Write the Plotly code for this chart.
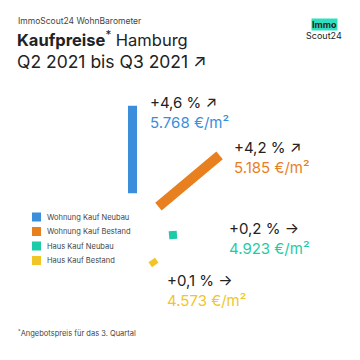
import math
import plotly.graph_objects as go

# ---------------- data ----------------
categories = ["Wohnung Kauf Neubau", "Wohnung Kauf Bestand", "Haus Kauf Neubau", "Haus Kauf Bestand"]
change_pct = [4.6, 4.2, 0.2, 0.1]
price_eur_m2 = [5768, 5185, 4923, 4573]
trend_arrow = ["↗", "↗", "→", "→"]

# ---------------- styles / layout ----------------
colors = ["#3A8EDB", "#E8801F", "#1ECBA9", "#F2C527"]
FONT = "Inter"
DARK = "#222222"
GREY = "#444444"

seg_center = [(132.5, 149.5), (189, 181), (173, 235), (153.5, 262.5)]
seg_angle = [90, 40, 5, 35]
seg_width = [9, 10, 8, 6]
LEN_PER_PCT = 19
MIN_LEN = 8

label_pos = [(148, 112), (232, 157), (227, 238), (165, 290)]
legend_x, legend_y0, legend_dy = 36.5, 217, 14.5


def de_num(v):
    return f"{v:,}".replace(",", ".")


def de_pct(v):
    return ("+" if v >= 0 else "") + f"{v:.1f}".replace(".", ",") + " %"


fig = go.Figure()

# segments
for i, cat in enumerate(categories):
    L = max(MIN_LEN, change_pct[i] * LEN_PER_PCT)
    cx, cy = seg_center[i]
    a = math.radians(seg_angle[i])
    dx, dy = math.cos(a) * L / 2, -math.sin(a) * L / 2
    fig.add_trace(go.Scatter(
        x=[cx - dx, cx + dx], y=[cy - dy, cy + dy], mode="lines",
        line=dict(color=colors[i], width=seg_width[i]),
        hoverinfo="skip", showlegend=False))

# legend markers
fig.add_trace(go.Scatter(
    x=[legend_x] * len(categories),
    y=[legend_y0 + k * legend_dy for k in range(len(categories))],
    mode="markers",
    marker=dict(symbol="square", size=9, color=colors, line=dict(width=0)),
    hoverinfo="skip", showlegend=False))

annotations = []
for k, cat in enumerate(categories):
    annotations.append(dict(
        x=45, y=legend_y0 + k * legend_dy, xref="x", yref="y", text=cat,
        showarrow=False, xanchor="left", yanchor="middle",
        font=dict(family=FONT, size=7.5, color=GREY)))

# value labels (two lines each)
for i in range(len(categories)):
    lx, ly = label_pos[i]
    txt = (f"{de_pct(change_pct[i])} {trend_arrow[i]}<br>"
           f"<span style='color:{colors[i]}'>{de_num(price_eur_m2[i])} €/m²</span>")
    annotations.append(dict(
        x=lx, y=ly, xref="x", yref="y", text=txt, align="left",
        showarrow=False, xanchor="left", yanchor="middle",
        font=dict(family=FONT, size=15, color=DARK)))

# titles
annotations += [
    dict(x=16, y=21, xref="x", yref="y", text="ImmoScout24 WohnBarometer", showarrow=False,
         xanchor="left", yanchor="middle", font=dict(family=FONT, size=8.5, color=GREY)),
    dict(x=15, y=39, xref="x", yref="y", text="<b>Kaufpreise</b><sup>*</sup> Hamburg", showarrow=False,
         xanchor="left", yanchor="middle", font=dict(family=FONT, size=16.5, color=DARK)),
    dict(x=15, y=61, xref="x", yref="y", text="Q2 2021 bis Q3 2021 ↗", showarrow=False,
         xanchor="left", yanchor="middle", font=dict(family=FONT, size=17.5, color=DARK)),
    dict(x=16, y=333, xref="x", yref="y", text="<sup>*</sup>Angebotspreis für das 3. Quartal", showarrow=False,
         xanchor="left", yanchor="middle", font=dict(family=FONT, size=7.5, color=GREY)),
    # logo
    dict(x=324, y=24.5, xref="x", yref="y", text="<b>Immo</b>", showarrow=False,
         xanchor="center", yanchor="middle", bgcolor="#2FE0C0", borderpad=0,
         font=dict(family=FONT, size=9, color="#222222")),
    dict(x=324, y=35.5, xref="x", yref="y", text="Scout24", showarrow=False,
         xanchor="center", yanchor="middle", font=dict(family=FONT, size=9, color="#222222")),
]

fig.update_layout(
    width=360, height=360, margin=dict(l=0, r=0, t=0, b=0),
    paper_bgcolor="white", plot_bgcolor="white",
    xaxis=dict(range=[0, 360], visible=False, fixedrange=True),
    yaxis=dict(range=[360, 0], visible=False, fixedrange=True),
    annotations=annotations, showlegend=False, hovermode=False,
)

fig.write_html("out.html", config={"displayModeBar": False, "staticPlot": True},
               post_script="document.body.style.margin='0';document.body.style.overflow='hidden';")
